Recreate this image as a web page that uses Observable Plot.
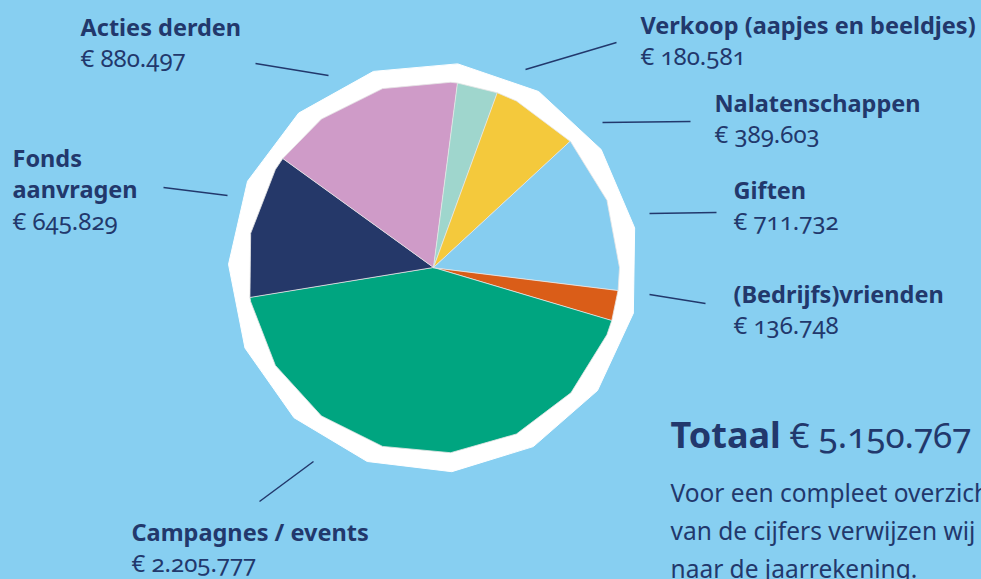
<!DOCTYPE html>
<html>
<head>
<meta charset="utf-8">
<script src="https://cdn.jsdelivr.net/npm/d3@7"></script>
<script src="https://cdn.jsdelivr.net/npm/@observablehq/plot@0.6"></script>
<style>
  html, body { margin: 0; padding: 0; background: #87cff1; overflow: hidden; }
  #chart { width: 981px; height: 579px; }
</style>
</head>
<body>
<div id="chart"></div>
<script>
// ---- data ----
const categories = ["(Bedrijfs)vrienden", "Campagnes / events", "Fonds\naanvragen", "Acties derden", "Verkoop (aapjes en beeldjes)", "Nalatenschappen", "Giften"];
const values = [136748, 2205777, 645829, 880497, 180581, 389603, 711732];
const colors = ["#da5d18", "#00a580", "#253869", "#cf9bc8", "#9fd6cd", "#f4c93c", "#86cdf0"];
const titleText = "Totaal";
const noteLines = ["Voor een compleet overzicht", "van de cijfers verwijzen wij", "naar de jaarrekening."];

// ---- layout (positions only) ----
const W = 981, H = 579;
const pie = {cx: 433, cy: 267, r: 186, border: 205, startDeg: 7, facets: 17, borderFacets: 15};
const labelLayout = [
  {x: 733, y: 302, leader: [649, 294, 705, 303]},
  {x: 131, y: 540, leader: [259, 501, 313, 461]},
  {x: 12,  y: 166, leader: [163, 187, 227, 195]},
  {x: 80,  y: 35,  leader: [255, 63, 328, 75]},
  {x: 640, y: 33,  leader: [525, 69, 616, 42]},
  {x: 714, y: 111, leader: [602, 122, 690, 121]},
  {x: 733, y: 198, leader: [649, 213, 716, 212]}
];
const lineStep = 31.5;

const nl = d3.formatLocale({decimal: ",", thousands: ".", grouping: [3], currency: ["€ ", ""]});
const fmt = nl.format("$,.0f");
const total = d3.sum(values);

// pie geometry via d3.pie
const arcs = d3.pie().sort(null)
  .startAngle(pie.startDeg * Math.PI / 180)
  .endAngle(pie.startDeg * Math.PI / 180 + 2 * Math.PI)(values);

const facetStep = 2 * Math.PI / pie.facets;
const slicePts = [];
arcs.forEach((a, i) => {
  const a0 = a.startAngle, a1 = a.endAngle;
  const angs = [a0];
  let k = Math.ceil(a0 / facetStep);
  while (k * facetStep < a1) { if (k * facetStep > a0) angs.push(k * facetStep); k++; }
  angs.push(a1);
  slicePts.push({i, x: pie.cx, y: pie.cy});
  angs.forEach(t => slicePts.push({i, x: pie.cx + pie.r * Math.cos(t), y: pie.cy + pie.r * Math.sin(t)}));
});
const borderPts = d3.range(pie.borderFacets).map(k => {
  const t = k * 2 * Math.PI / pie.borderFacets - Math.PI / 2 + 0.12;
  return {x: pie.cx + pie.border * Math.cos(t), y: pie.cy + pie.border * Math.sin(t)};
});

const labels = categories.map((c, i) => {
  const n = c.split("\n").length;
  return {
    name: c,
    value: fmt(values[i]),
    x: labelLayout[i].x,
    y: labelLayout[i].y + (n - 1) * lineStep,
    vy: labelLayout[i].y + n * lineStep,
    x1: labelLayout[i].leader[0], y1: labelLayout[i].leader[1],
    x2: labelLayout[i].leader[2], y2: labelLayout[i].leader[3]
  };
});

const navy = "#22386c";
const font = "Noto Sans";

const plot = Plot.plot({
  width: W, height: H,
  margin: 0,
  x: {domain: [0, W], range: [0, W], axis: null},
  y: {domain: [0, H], range: [0, H], axis: null},
  style: {background: "#87cff1", fontFamily: font, overflow: "hidden"},
  marks: [
    Plot.line(borderPts, {x: "x", y: "y", fill: "white", stroke: "white", strokeWidth: 1, curve: "linear-closed"}),
    Plot.line(slicePts, {x: "x", y: "y", z: "i", fill: d => colors[d.i], stroke: "#e6e6e6", strokeWidth: 1, strokeOpacity: 0.8, curve: "linear-closed"}),
    Plot.link(labels, {x1: "x1", y1: "y1", x2: "x2", y2: "y2", stroke: navy, strokeWidth: 1.5}),
    Plot.text(labels, {x: "x", y: "y", text: "name", textAnchor: "start", lineAnchor: "bottom", lineHeight: lineStep / 23.5, fontSize: 23.5, fontWeight: "bold", fill: navy}),
    Plot.text(labels, {x: "x", y: "vy", text: "value", textAnchor: "start", lineAnchor: "bottom", fontSize: 24, fill: navy, fontVariant: "oldstyle-nums"}),
    Plot.text([titleText], {x: 670, y: 447, text: d => d, textAnchor: "start", lineAnchor: "bottom", fontSize: 36, fontWeight: "bold", fill: navy}),
    Plot.text([fmt(total)], {x: 789, y: 447, text: d => d, textAnchor: "start", lineAnchor: "bottom", fontSize: 35, fill: navy, fontVariant: "oldstyle-nums"}),
    Plot.text(noteLines, {x: 670, y: (d, i) => 501 + i * 38, text: d => d, textAnchor: "start", lineAnchor: "bottom", fontSize: 24.5, fill: navy})
  ]
});
document.getElementById("chart").appendChild(plot);
</script>
</body>
</html>
